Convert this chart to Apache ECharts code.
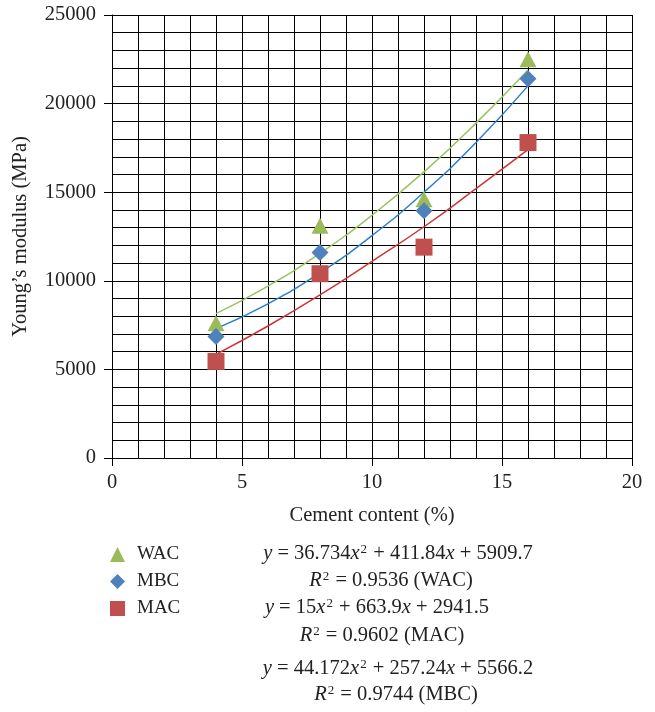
<!DOCTYPE html>
<html>
<head>
<meta charset="utf-8">
<script src="https://cdn.jsdelivr.net/npm/echarts@6/dist/echarts.min.js"></script>
<style>
  html, body { margin: 0; padding: 0; background: #fff; }
  #main { width: 655px; height: 712px; }
</style>
</head>
<body>
<div id="main"></div>
<script>
// measured points
var cementX = [4, 8, 12, 16];
var wacValues = [7600, 13100, 14600, 22500];
var mbcValues = [6850, 11600, 13950, 21400];
var macValues = [5450, 10400, 11900, 17800];

// trend curves
var trendX = [4, 6, 8, 10, 12, 14, 16];
var wacTrend = [8150, 9700, 11550, 13700, 16150, 18900, 21900];
var mbcTrend = [7300, 8700, 10450, 12550, 15000, 17800, 21000];
var macTrend = [5850, 7450, 9200, 11100, 13050, 15200, 17400];

var xTicks = [0, 5, 10, 15, 20];
var yTicks = [0, 5000, 10000, 15000, 20000, 25000];

var equations = [
    '{i|y} = 36.734{i|x}{s|2} + 411.84{i|x} + 5909.7',
    '{i|R}{s|2} = 0.9536 (WAC)',
    '{i|y} = 15{i|x}{s|2} + 663.9{i|x} + 2941.5',
    '{i|R}{s|2} = 0.9602 (MAC)',
    '{i|y} = 44.172{i|x}{s|2} + 257.24{i|x} + 5566.2',
    '{i|R}{s|2} = 0.9744 (MBC)'
];

var serif = '"Liberation Serif", "DejaVu Serif", serif';
var fs = 20.5;

function pairs(xs, ys) {
    return xs.map(function (x, i) { return [x, ys[i]]; });
}

var eqPos = [[398, 554], [391, 581], [377, 608], [382, 636], [398, 669], [396, 695]];
var rich = {
    i: { fontFamily: serif, fontSize: fs, fontStyle: 'italic', fill: '#222', lineHeight: 22 },
    s: { fontFamily: serif, fontSize: 13, fill: '#222', verticalAlign: 'top', lineHeight: 11, padding: [0, 1, 0, 1] }
};
var graphics = equations.map(function (t, k) {
    return {
        type: 'text',
        x: eqPos[k][0],
        y: eqPos[k][1],
        style: {
            text: t,
            fontFamily: serif,
            fontSize: fs,
            lineHeight: 22,
            fill: '#222',
            align: 'center',
            verticalAlign: 'middle',
            rich: rich
        }
    };
});

var myChart = echarts.init(document.getElementById('main'));
var option = {
    animation: false,
    backgroundColor: '#fff',
    grid: { left: 112, right: 23, top: 15, bottom: 254 },
    xAxis: {
        type: 'value',
        min: xTicks[0],
        max: xTicks[xTicks.length - 1],
        interval: 5,
        name: 'Cement content (%)',
        nameLocation: 'middle',
        nameGap: 47,
        nameTextStyle: { fontFamily: serif, fontSize: fs, color: '#222' },
        axisLine: { lineStyle: { color: '#000', width: 1 } },
        axisTick: { show: true, length: 8, lineStyle: { color: '#000' } },
        axisLabel: { fontFamily: serif, fontSize: fs, color: '#222', margin: 14 },
        splitLine: { show: true, lineStyle: { color: '#000', width: 1 } },
        minorTick: { show: false, splitNumber: 5 },
        minorSplitLine: { show: true, lineStyle: { color: '#000', width: 1 } }
    },
    yAxis: {
        type: 'value',
        min: yTicks[0],
        max: yTicks[yTicks.length - 1],
        interval: 5000,
        name: 'Young’s modulus (MPa)',
        nameLocation: 'middle',
        nameGap: 81,
        nameTextStyle: { fontFamily: serif, fontSize: fs, color: '#222' },
        axisLine: { show: true, lineStyle: { color: '#000', width: 1 } },
        axisTick: { show: true, length: 8, lineStyle: { color: '#000' } },
        axisLabel: {
            fontFamily: serif, fontSize: fs, color: '#222', margin: 16,
            formatter: function (v) { return String(v); }
        },
        splitLine: { show: true, lineStyle: { color: '#000', width: 1 } },
        minorTick: { show: false, splitNumber: 5 },
        minorSplitLine: { show: true, lineStyle: { color: '#000', width: 1 } }
    },
    legend: {
        data: ['WAC', 'MBC', 'MAC'],
        orient: 'vertical',
        left: 105,
        top: 540,
        itemWidth: 15,
        itemHeight: 15,
        itemGap: 8,
        textStyle: { fontFamily: serif, fontSize: 19, color: '#222', padding: [0, 0, 0, 7] }
    },
    graphic: graphics,
    series: [
        {
            name: 'WAC trend', type: 'line', data: pairs(trendX, wacTrend),
            smooth: true, showSymbol: false, silent: true,
            lineStyle: { color: '#9cc25f', width: 1.5 }, z: 3
        },
        {
            name: 'MBC trend', type: 'line', data: pairs(trendX, mbcTrend),
            smooth: true, showSymbol: false, silent: true,
            lineStyle: { color: '#2b7fcb', width: 1.5 }, z: 3
        },
        {
            name: 'MAC trend', type: 'line', data: pairs(trendX, macTrend),
            smooth: true, showSymbol: false, silent: true,
            lineStyle: { color: '#cf3434', width: 1.5 }, z: 3
        },
        {
            name: 'WAC', type: 'scatter', data: pairs(cementX, wacValues),
            symbol: 'triangle', symbolSize: [17, 16],
            itemStyle: { color: '#9bbb59', opacity: 1 }, z: 4
        },
        {
            name: 'MBC', type: 'scatter', data: pairs(cementX, mbcValues),
            symbol: 'diamond', symbolSize: 17,
            itemStyle: { color: '#4f81bd', opacity: 1 }, z: 4
        },
        {
            name: 'MAC', type: 'scatter', data: pairs(cementX, macValues),
            symbol: 'rect', symbolSize: 17,
            itemStyle: { color: '#c0504d', opacity: 1 }, z: 4
        }
    ]
};
myChart.setOption(option);
</script>
</body>
</html>
